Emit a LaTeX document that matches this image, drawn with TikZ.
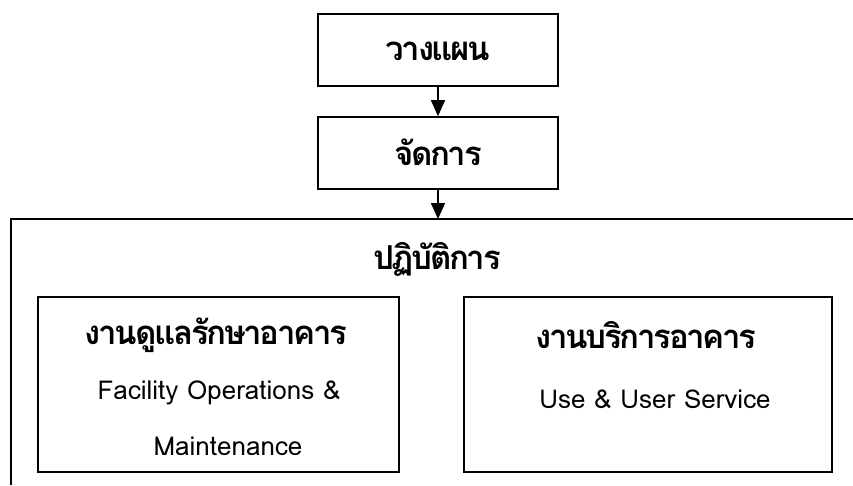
\documentclass[tikz,border=0pt]{standalone}
\usepackage{fontspec}
\setmainfont[Script=Thai]{Loma}
\newfontfamily\thaihead[Script=Thai,LetterSpace=-7]{Loma}
\usetikzlibrary{arrows.meta}
\tikzset{
  box/.style={draw, line width=1.6pt, inner sep=0pt},
  flow/.style={line width=1.6pt, -{Triangle[length=16pt,width=14pt]}},
  head/.style={font=\thaihead\fontsize{33}{36}\selectfont\bfseries, inner sep=0pt},
  sub/.style={font=\fontsize{26}{30}\selectfont, inner sep=0pt}
}
\begin{document}
\begin{tikzpicture}[x=1pt,y=-1pt]
	\useasboundingbox (0,0) rectangle (853,485);
	% top boxes
	\node[box, minimum width=240pt, minimum height=72pt] (plan) at (438,50) {};
	\node[box, minimum width=240pt, minimum height=72pt] (manage) at (438,153) {};
	\node[head] (plantext) at (438,51) {วางแผน};
	\node[head] (managetext) at (438,152) {จัดการ};
	% outer frame (cut off right and below)
	\draw[line width=1.6pt] (11,485) -- (11,219) -- (853,219);
	\coordinate (frametop) at (438,219);
	\draw[flow] (plan) -- (manage);
	\draw[flow] (manage) -- (frametop);
	\node[head] (operate) at (437,259) {ปฏิบัติการ};
	% inner boxes
	\node[box, minimum width=361pt, minimum height=175pt] (care) at (218.5,384.5) {};
	\node[box, minimum width=368pt, minimum height=175pt] (service) at (648,384.5) {};
	\node[head] (caretext) at (216,335) {งานดูแลรักษาอาคาร};
	\node[sub] (careline1) at (219,393) {Facility Operations \&};
	\node[sub] (careline2) at (228,446) {Maintenance};
	\node[head] (servicetext) at (646,335) {งานบริการอาคาร};
	\node[sub] (serviceline) at (655,399) {Use \& User Service};
\end{tikzpicture}
\end{document}
